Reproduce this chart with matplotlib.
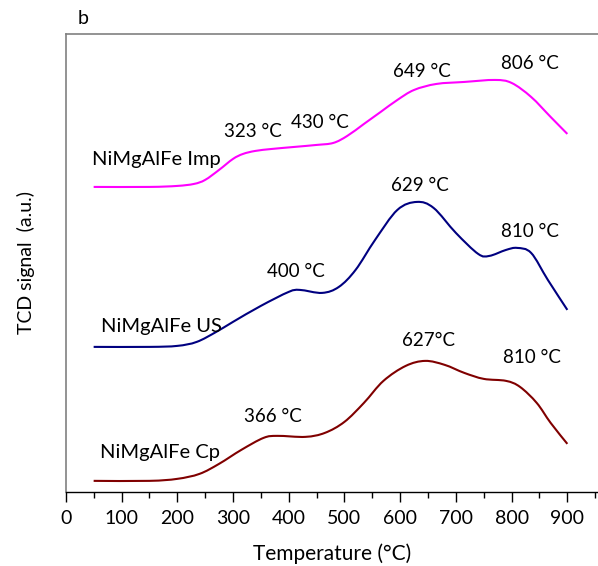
import numpy as np
import matplotlib.pyplot as plt
from matplotlib.path import Path
from matplotlib.patches import PathPatch

plt.rcParams['font.family'] = ['Lato', 'DejaVu Sans']

# TPR profiles (arbitrary units, curves already offset)
temp_imp = [50, 150, 200, 230, 250, 275, 300, 318, 340, 370, 410, 450, 480, 505, 535,
            565, 595, 625, 665, 715, 770, 800, 835, 870, 900]
sig_imp = [305, 305, 306, 308, 312, 322, 333, 338, 341, 343, 345, 347, 349, 356, 368,
           380, 392, 402, 408, 410, 412, 409, 395, 375, 358]

temp_us = [50, 150, 200, 235, 270, 300, 350, 400, 420, 460, 490, 520, 555, 595, 630,
           660, 700, 740, 760, 790, 810, 835, 865, 900]
sig_us = [145, 145, 146, 150, 160, 170, 186, 200, 202, 199, 205, 222, 252, 282, 290,
          284, 259, 238, 236, 242, 244, 239, 212, 182]

temp_cp = [50, 150, 200, 240, 275, 315, 355, 380, 430, 465, 500, 535, 570, 610,
           645, 680, 715, 750, 790, 815, 845, 870, 900]
sig_cp = [11, 11, 13, 18, 28, 42, 54, 56, 55, 59, 70, 89, 111, 126,
          131, 127, 119, 113, 111, 105, 89, 69, 48]

# peak labels: (text, x, y)
peaks = [('323 °C', 336, 360), ('430 °C', 456, 369), ('649 °C', 639, 420),
         ('806 °C', 833, 428), ('400 °C', 413, 220), ('629 °C', 636, 306),
         ('810 °C', 833, 260), ('366 °C', 372, 75), ('627°C', 650, 151),
         ('810 °C', 837, 134)]
names = [('NiMgAlFe Imp', 47, 332), ('NiMgAlFe US', 63, 165), ('NiMgAlFe Cp', 61, 39)]


def smooth_line(ax, xs, ys, color):
    # Excel-style smoothed line: Catmull-Rom segments drawn as cubic Beziers
    p = np.column_stack([xs, ys]).astype(float)
    p = np.vstack([p[0], p, p[-1]])
    verts = [p[1]]
    codes = [Path.MOVETO]
    for i in range(1, len(p) - 2):
        c1 = p[i] + (p[i + 1] - p[i - 1]) / 6
        c2 = p[i + 1] - (p[i + 2] - p[i]) / 6
        verts += [c1, c2, p[i + 1]]
        codes += [Path.CURVE4] * 3
    ax.add_patch(PathPatch(Path(verts, codes), fill=False, edgecolor=color,
                           lw=1.5, capstyle='butt'))


fig = plt.figure(figsize=(5.98, 5.66), dpi=100)
ax = fig.add_axes([0.110, 0.131, 0.89, 0.809])

smooth_line(ax, temp_imp, sig_imp, '#FF00FF')
smooth_line(ax, temp_us, sig_us, '#000080')
smooth_line(ax, temp_cp, sig_cp, '#800000')

for t, x, y in peaks:
    ax.text(x, y, t, fontsize=13.5, ha='center', va='center')
for t, x, y in names:
    ax.text(x, y, t, fontsize=14.5, ha='left', va='center')

ax.set_xlim(0, 955)
ax.set_ylim(0, 458)
ax.set_xticks(np.arange(0, 901, 100))
ax.set_xticks(np.arange(50, 951, 100), minor=True)
ax.set_yticks([])
ax.tick_params(axis='x', which='major', length=7, width=1, labelsize=14, pad=6)
ax.tick_params(axis='x', which='minor', length=4, width=1)

ax.spines['right'].set_visible(False)
ax.spines['left'].set_color('#808080')
ax.spines['top'].set_color('#808080')
ax.spines['left'].set_linewidth(1.2)
ax.spines['top'].set_linewidth(1.2)
ax.spines['bottom'].set_linewidth(1.0)

ax.set_xlabel('Temperature (°C)', fontsize=15, labelpad=12)
ax.set_ylabel('TCD signal  (a.u.)', fontsize=14, labelpad=22)
fig.text(0.139, 0.968, 'b', fontsize=14, ha='center', va='center')

fig.savefig('out.png', dpi=100)
